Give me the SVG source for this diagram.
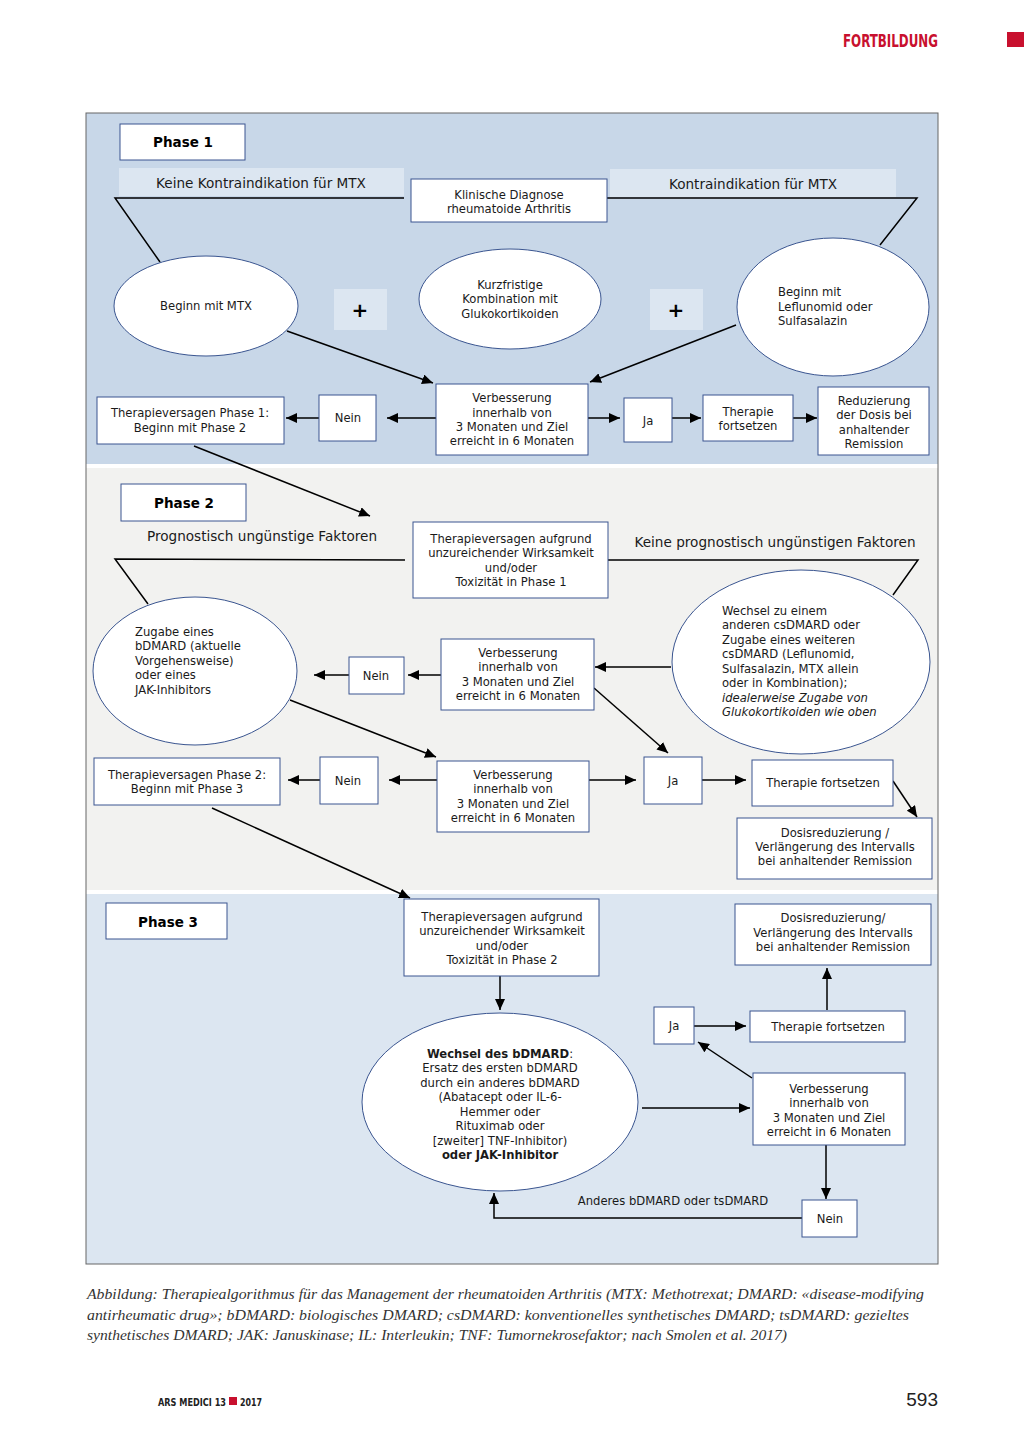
<svg xmlns="http://www.w3.org/2000/svg" width="1024" height="1448" viewBox="0 0 1024 1448">
<defs>
<marker id="ah" markerUnits="userSpaceOnUse" markerWidth="12" markerHeight="10" refX="11" refY="5" orient="auto">
<path d="M0,0 L11,5 L0,10 z" fill="#000"/>
</marker>
<style>
.t{font-family:"DejaVu Sans","Verdana",sans-serif;font-size:11.6px;fill:#1a1a1a;text-anchor:middle}
.tl{font-family:"DejaVu Sans","Verdana",sans-serif;font-size:11.6px;fill:#1a1a1a}
.lab{font-family:"DejaVu Sans","Verdana",sans-serif;font-size:13.6px;fill:#1a1a1a;text-anchor:middle}
.ph{font-family:"DejaVu Sans","Verdana",sans-serif;font-size:13.5px;font-weight:bold;fill:#000;text-anchor:middle}
.pl{font-family:"DejaVu Sans","Verdana",sans-serif;font-size:20px;font-weight:bold;fill:#000;text-anchor:middle}
.box{fill:#fff;stroke:#3a5590;stroke-width:1}
.ell{fill:#fff;stroke:#3a5590;stroke-width:1}
.lbg{fill:#dce6f1}
.c{stroke:#000;stroke-width:1.5;fill:none}
.a{stroke:#000;stroke-width:1.5;fill:none;marker-end:url(#ah)}
.cap{font-family:"Liberation Serif","Times New Roman",serif;font-style:italic;font-size:14.5px;fill:#333}
</style>
</defs>
<rect width="1024" height="1448" fill="#fff"/>
<!-- header -->
<text x="938" y="47" text-anchor="end" font-family="DejaVu Sans Condensed,DejaVu Sans,sans-serif" font-weight="bold" font-size="17" fill="#c8102e" textLength="95" lengthAdjust="spacingAndGlyphs">FORTBILDUNG</text>
<rect x="1007" y="32" width="17" height="15" fill="#c8102e"/>
<!-- bands -->
<g id="bands">
<rect x="86" y="113" width="852" height="351" fill="#c8d7e8"/>
<rect x="86" y="468" width="852" height="422" fill="#f2f2f0"/>
<rect x="86" y="894" width="852" height="370" fill="#dce6f1"/>
<rect x="86" y="113" width="852" height="1151" fill="none" stroke="#666" stroke-width="1"/>
</g>
<!-- connectors -->
<g id="connectors">
<polyline class="c" points="404,198 115,198 160,262"/>
<polyline class="c" points="607,198 917,198 880,245"/>
<line class="a" x1="287" y1="331" x2="433" y2="383"/>
<line class="a" x1="736" y1="325" x2="590" y2="382"/>
<line class="a" x1="436" y1="418" x2="387" y2="418"/>
<line class="a" x1="319" y1="418" x2="286" y2="418"/>
<line class="a" x1="588" y1="418" x2="620" y2="418"/>
<line class="a" x1="672" y1="418" x2="701" y2="418"/>
<line class="a" x1="793" y1="418" x2="817" y2="418"/>
<line class="a" x1="194" y1="446" x2="370" y2="516"/>
<polyline class="c" points="405,560 115,559 148,604"/>
<polyline class="c" points="608,560 918,560 893,595"/>
<line class="a" x1="441" y1="675" x2="408" y2="675"/>
<line class="a" x1="349" y1="675" x2="314" y2="675"/>
<line class="a" x1="671" y1="667" x2="595" y2="667"/>
<line class="a" x1="594" y1="688" x2="668" y2="753"/>
<line class="a" x1="290" y1="700" x2="436" y2="757"/>
<line class="a" x1="437" y1="780" x2="389" y2="780"/>
<line class="a" x1="320" y1="780" x2="288" y2="780"/>
<line class="a" x1="589" y1="780" x2="636" y2="780"/>
<line class="a" x1="702" y1="780" x2="746" y2="780"/>
<line class="a" x1="893" y1="781" x2="917" y2="817"/>
<line class="a" x1="212" y1="808" x2="410" y2="898"/>
<line class="a" x1="500" y1="976" x2="500" y2="1010"/>
<line class="a" x1="642" y1="1108" x2="750" y2="1108"/>
<line class="a" x1="752" y1="1078" x2="698" y2="1042"/>
<line class="a" x1="694" y1="1026" x2="746" y2="1026"/>
<line class="a" x1="827" y1="1010" x2="827" y2="968"/>
<line class="a" x1="826" y1="1145" x2="826" y2="1199"/>
<polyline class="a" points="802,1218 494,1218 494,1193"/>
</g>
<!-- Phase 1 -->
<g id="phase1"><rect class="box" x="120" y="124" width="125" height="36"/><text class="ph" x="183" y="147">Phase 1</text></g>
<g id="lbl-keine-ki"><rect class="lbg" x="119" y="168" width="285" height="28"/><text class="lab" x="261" y="188">Keine Kontraindikation für MTX</text></g>
<g id="lbl-ki"><rect class="lbg" x="610" y="169" width="286" height="28"/><text class="lab" x="753" y="189">Kontraindikation für MTX</text></g>
<g id="diagnose"><rect class="box" x="411" y="179" width="196" height="43"/><text class="t" x="509" y="199">Klinische Diagnose</text><text class="t" x="509" y="213">rheumatoide Arthritis</text></g>
<g id="mtx"><ellipse class="ell" cx="206" cy="306" rx="92" ry="50"/><text class="t" x="206" y="310">Beginn mit MTX</text></g>
<g id="plus1"><rect class="lbg" x="334" y="289" width="53" height="41"/><text class="pl" x="360" y="317">+</text></g>
<g id="gluko"><ellipse class="ell" cx="510" cy="299" rx="91" ry="50"/><text class="t" x="510" y="289">Kurzfristige</text><text class="t" x="510" y="303">Kombination mit</text><text class="t" x="510" y="318">Glukokortikoiden</text></g>
<g id="plus2"><rect class="lbg" x="650" y="289" width="53" height="41"/><text class="pl" x="676" y="317">+</text></g>
<g id="lefl"><ellipse class="ell" cx="833" cy="307" rx="96" ry="69"/><text class="tl" x="778" y="296">Beginn mit</text><text class="tl" x="778" y="311">Leflunomid oder</text><text class="tl" x="778" y="325">Sulfasalazin</text></g>
<g id="verb1"><rect class="box" x="436" y="384" width="152" height="71"/><text class="t" x="512" y="402">Verbesserung</text><text class="t" x="512" y="417">innerhalb von</text><text class="t" x="512" y="431">3 Monaten und Ziel</text><text class="t" x="512" y="445">erreicht in 6 Monaten</text></g>
<g id="nein1"><rect class="box" x="319" y="395" width="57" height="46"/><text class="t" x="348" y="422">Nein</text></g>
<g id="tv1"><rect class="box" x="97" y="397" width="187" height="47"/><text class="t" x="190" y="417">Therapieversagen Phase 1:</text><text class="t" x="190" y="432">Beginn mit Phase 2</text></g>
<g id="ja1"><rect class="box" x="624" y="398" width="48" height="44"/><text class="t" x="648" y="425">Ja</text></g>
<g id="tf1"><rect class="box" x="703" y="395" width="90" height="46"/><text class="t" x="748" y="416">Therapie</text><text class="t" x="748" y="430">fortsetzen</text></g>
<g id="red1"><rect class="box" x="818" y="387" width="111" height="68"/><text class="t" x="874" y="405">Reduzierung</text><text class="t" x="874" y="419">der Dosis bei</text><text class="t" x="874" y="434">anhaltender</text><text class="t" x="874" y="448">Remission</text></g>
<!-- Phase 2 -->
<g id="phase2"><rect class="box" x="121" y="484" width="125" height="37"/><text class="ph" x="184" y="508">Phase 2</text></g>
<g id="lbl-progn"><text class="lab" x="262" y="541">Prognostisch ungünstige Faktoren</text></g>
<g id="lbl-keine-progn"><text class="lab" x="775" y="547">Keine prognostisch ungünstigen Faktoren</text></g>
<g id="tv-ph1"><rect class="box" x="413" y="522" width="195" height="76"/><text class="t" x="511" y="543">Therapieversagen aufgrund</text><text class="t" x="511" y="557">unzureichender Wirksamkeit</text><text class="t" x="511" y="572">und/oder</text><text class="t" x="511" y="586">Toxizität in Phase 1</text></g>
<g id="zugabe"><ellipse class="ell" cx="195" cy="671" rx="102" ry="74"/><text class="tl" x="135" y="636">Zugabe eines</text><text class="tl" x="135" y="650">bDMARD (aktuelle</text><text class="tl" x="135" y="665">Vorgehensweise)</text><text class="tl" x="135" y="679">oder eines</text><text class="tl" x="135" y="694">JAK-Inhibitors</text></g>
<g id="nein2a"><rect class="box" x="349" y="657" width="55" height="37"/><text class="t" x="376" y="680">Nein</text></g>
<g id="verb2a"><rect class="box" x="441" y="639" width="153" height="71"/><text class="t" x="518" y="657">Verbesserung</text><text class="t" x="518" y="671">innerhalb von</text><text class="t" x="518" y="686">3 Monaten und Ziel</text><text class="t" x="518" y="700">erreicht in 6 Monaten</text></g>
<g id="wechsel"><ellipse class="ell" cx="801" cy="662" rx="129" ry="92"/><text class="tl" x="722" y="615">Wechsel zu einem</text><text class="tl" x="722" y="629">anderen csDMARD oder</text><text class="tl" x="722" y="644">Zugabe eines weiteren</text><text class="tl" x="722" y="658">csDMARD (Leflunomid,</text><text class="tl" x="722" y="673">Sulfasalazin, MTX allein</text><text class="tl" x="722" y="687">oder in Kombination);</text><text class="tl" x="722" y="702" font-style="italic">idealerweise Zugabe von</text><text class="tl" x="722" y="716" font-style="italic">Glukokortikoiden wie oben</text></g>
<g id="verb2b"><rect class="box" x="437" y="761" width="152" height="71"/><text class="t" x="513" y="779">Verbesserung</text><text class="t" x="513" y="793">innerhalb von</text><text class="t" x="513" y="808">3 Monaten und Ziel</text><text class="t" x="513" y="822">erreicht in 6 Monaten</text></g>
<g id="nein2b"><rect class="box" x="320" y="757" width="58" height="47"/><text class="t" x="348" y="785">Nein</text></g>
<g id="tv2"><rect class="box" x="94" y="758" width="186" height="47"/><text class="t" x="187" y="779">Therapieversagen Phase 2:</text><text class="t" x="187" y="793">Beginn mit Phase 3</text></g>
<g id="ja2"><rect class="box" x="644" y="757" width="58" height="47"/><text class="t" x="673" y="785">Ja</text></g>
<g id="tf2"><rect class="box" x="752" y="760" width="141" height="46"/><text class="t" x="823" y="787">Therapie fortsetzen</text></g>
<g id="dos2"><rect class="box" x="737" y="818" width="195" height="61"/><text class="t" x="835" y="837">Dosisreduzierung /</text><text class="t" x="835" y="851">Verlängerung des Intervalls</text><text class="t" x="835" y="865">bei anhaltender Remission</text></g>
<!-- Phase 3 -->
<g id="phase3"><rect class="box" x="106" y="903" width="121" height="36"/><text class="ph" x="168" y="927">Phase 3</text></g>
<g id="tv-ph2"><rect class="box" x="404" y="899" width="195" height="77"/><text class="t" x="502" y="921">Therapieversagen aufgrund</text><text class="t" x="502" y="935">unzureichender Wirksamkeit</text><text class="t" x="502" y="950">und/oder</text><text class="t" x="502" y="964">Toxizität in Phase 2</text></g>
<g id="wechsel-bdmard"><ellipse class="ell" cx="500" cy="1102" rx="138" ry="89"/>
<text class="t" x="500" y="1058"><tspan font-weight="bold">Wechsel des bDMARD</tspan>:</text>
<text class="t" x="500" y="1072">Ersatz des ersten bDMARD</text>
<text class="t" x="500" y="1087">durch ein anderes bDMARD</text>
<text class="t" x="500" y="1101">(Abatacept oder IL-6-</text>
<text class="t" x="500" y="1116">Hemmer oder</text>
<text class="t" x="500" y="1130">Rituximab oder</text>
<text class="t" x="500" y="1145">[zweiter] TNF-Inhibitor)</text>
<text class="t" x="500" y="1159" font-weight="bold">oder JAK-Inhibitor</text></g>
<g id="verb3"><rect class="box" x="753" y="1073" width="152" height="72"/><text class="t" x="829" y="1093">Verbesserung</text><text class="t" x="829" y="1107">innerhalb von</text><text class="t" x="829" y="1122">3 Monaten und Ziel</text><text class="t" x="829" y="1136">erreicht in 6 Monaten</text></g>
<g id="ja3"><rect class="box" x="654" y="1007" width="40" height="37"/><text class="t" x="674" y="1030">Ja</text></g>
<g id="tf3"><rect class="box" x="750" y="1011" width="155" height="31"/><text class="t" x="828" y="1031">Therapie fortsetzen</text></g>
<g id="dos3"><rect class="box" x="735" y="904" width="196" height="61"/><text class="t" x="833" y="922">Dosisreduzierung/</text><text class="t" x="833" y="937">Verlängerung des Intervalls</text><text class="t" x="833" y="951">bei anhaltender Remission</text></g>
<g id="nein3"><rect class="box" x="802" y="1200" width="55" height="37"/><text class="t" x="830" y="1223">Nein</text></g>
<g id="lbl-anderes"><text class="t" x="673" y="1205">Anderes bDMARD oder tsDMARD</text></g>
<!-- caption -->
<g id="caption">
<text class="cap" x="87" y="1299" textLength="837" lengthAdjust="spacingAndGlyphs">Abbildung: Therapiealgorithmus für das Management der rheumatoiden Arthritis (MTX: Methotrexat; DMARD: «disease-modifying</text>
<text class="cap" x="87" y="1320" textLength="822" lengthAdjust="spacingAndGlyphs">antirheumatic drug»; bDMARD: biologisches DMARD; csDMARD: konventionelles synthetisches DMARD; tsDMARD: gezieltes</text>
<text class="cap" x="87" y="1340" textLength="700" lengthAdjust="spacingAndGlyphs">synthetisches DMARD; JAK: Januskinase; IL: Interleukin; TNF: Tumornekrosefaktor; nach Smolen et al. 2017)</text>
</g>
<!-- footer -->
<g id="footer">
<text x="158" y="1406" font-family="DejaVu Sans Condensed,DejaVu Sans,sans-serif" font-weight="bold" font-size="11" fill="#222" textLength="68" lengthAdjust="spacingAndGlyphs">ARS MEDICI 13</text>
<rect x="229" y="1397" width="8" height="8" fill="#c8102e"/>
<text x="240" y="1406" font-family="DejaVu Sans Condensed,DejaVu Sans,sans-serif" font-weight="bold" font-size="11" fill="#222" textLength="22" lengthAdjust="spacingAndGlyphs">2017</text>
<text x="938" y="1406" text-anchor="end" font-family="Liberation Sans,Arial,sans-serif" font-size="19" fill="#222">593</text>
</g>
</svg>
